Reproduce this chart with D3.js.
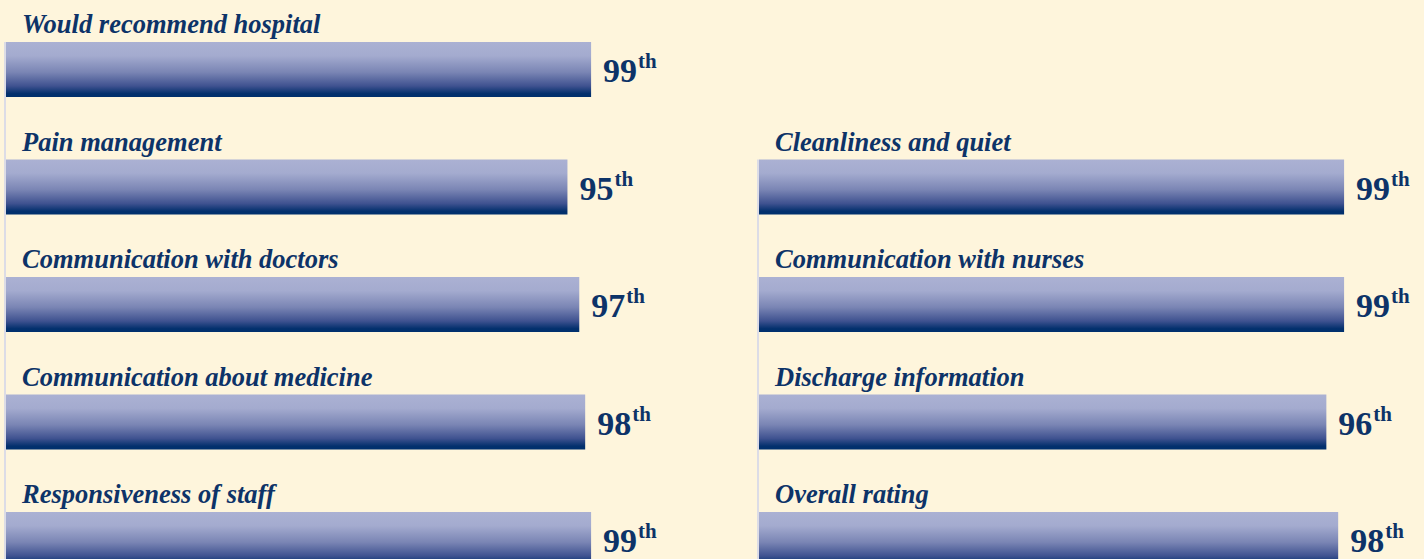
<!DOCTYPE html>
<html>
<head>
<meta charset="utf-8">
<script src="https://cdn.jsdelivr.net/npm/d3@7"></script>
<style>
  html, body { margin: 0; padding: 0; background: #fef5dc; }
  svg { display: block; }
</style>
</head>
<body>
<svg></svg>
<script>
// Data: percentile ranks, two columns
var leftLabels = ["Would recommend hospital", "Pain management", "Communication with doctors",
                  "Communication about medicine", "Responsiveness of staff"];
var leftValues = [99, 95, 97, 98, 99];
var leftRows = [0, 1, 2, 3, 4];

var rightLabels = ["Cleanliness and quiet", "Communication with nurses",
                   "Discharge information", "Overall rating"];
var rightValues = [99, 99, 96, 98];
var rightRows = [1, 2, 3, 4];

var width = 1424, height = 559;
var navy = "#0d3368";

var svg = d3.select("svg")
    .attr("width", width)
    .attr("height", height);

svg.append("rect")
    .attr("width", width)
    .attr("height", height)
    .attr("fill", "#fef5dc");

// vertical gradient used for every bar
var grad = svg.append("defs").append("linearGradient")
    .attr("id", "barGrad")
    .attr("x1", 0).attr("y1", 0).attr("x2", 0).attr("y2", 1);
grad.selectAll("stop")
    .data([[0, "#abb1d3"], [0.25, "#a4abcf"], [0.55, "#7a85b4"], [0.8, "#3f5290"], [0.94, "#03306d"], [1, "#00306d"]])
    .join("stop")
    .attr("offset", d => d[0])
    .attr("stop-color", d => d[1]);

// row positions (bar tops)
var y = d3.scaleLinear().domain([0, 4]).range([42, 512]);
var barH = 55;

function suffix(n) {
    var s = ["th", "st", "nd", "rd"], v = n % 100;
    return s[(v - 20) % 10] || s[v] || s[0];
}

function drawColumn(x0, labels, values, rows) {
    var x = d3.scaleLinear().domain([0, 100]).range([x0, x0 + 591]);
    var g = svg.append("g");

    // thin axis line on the left
    g.append("line")
        .attr("x1", x0 - 1).attr("x2", x0 - 1)
        .attr("y1", y(rows[0])).attr("y2", height)
        .attr("stroke", "#dcdce6")
        .attr("stroke-width", 2);

    var data = labels.map((l, i) => ({label: l, value: values[i], row: rows[i]}));

    g.selectAll("rect.bar")
        .data(data)
        .join("rect")
        .attr("class", "bar")
        .attr("x", x(0))
        .attr("y", d => y(d.row))
        .attr("width", d => x(d.value) - x(0))
        .attr("height", barH)
        .attr("fill", "url(#barGrad)");

    g.selectAll("text.label")
        .data(data)
        .join("text")
        .attr("class", "label")
        .attr("x", x0 + 16)
        .attr("y", d => y(d.row) - 9)
        .attr("fill", navy)
        .style("font-family", "'Liberation Serif', serif")
        .style("font-style", "italic")
        .style("font-weight", "bold")
        .style("font-size", "26.5px")
        .text(d => d.label);

    var val = g.selectAll("text.value")
        .data(data)
        .join("text")
        .attr("class", "value")
        .attr("x", d => x(d.value) + 12)
        .attr("y", d => y(d.row) + 40)
        .attr("fill", navy)
        .style("font-family", "'Liberation Serif', serif")
        .style("font-weight", "bold")
        .style("font-size", "34px");
    val.append("tspan").text(d => d.value);
    val.append("tspan")
        .attr("dx", 1)
        .attr("dy", -14)
        .style("font-size", "21px")
        .text(d => suffix(d.value));
}

drawColumn(6, leftLabels, leftValues, leftRows);
drawColumn(759, rightLabels, rightValues, rightRows);
</script>
</body>
</html>
